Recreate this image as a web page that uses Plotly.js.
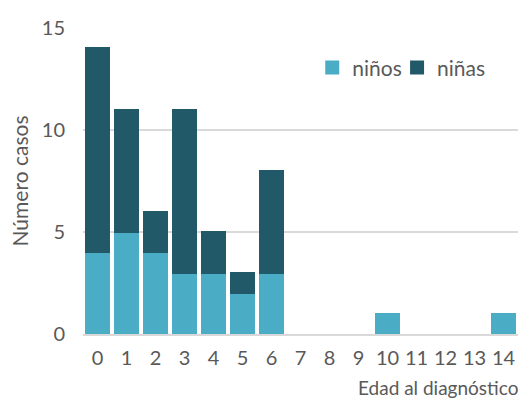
<!DOCTYPE html>
<html>
<head>
<meta charset="utf-8">
<script src="https://cdn.plot.ly/plotly-3.0.1.min.js"></script>
<style>
  html, body { margin: 0; padding: 0; background: #ffffff; }
  #chart { width: 523px; height: 399px; }
</style>
</head>
<body>
<div id="chart"></div>
<script>
// Edades al diagnóstico (años)
const edades = ['0','1','2','3','4','5','6','7','8','9','10','11','12','13','14'];
// Casos por sexo
const ninos = [4, 5, 4, 3, 3, 2, 3, 0, 0, 0, 1, 0, 0, 0, 1];
const ninas = [10, 6, 2, 8, 2, 1, 5, 0, 0, 0, 0, 0, 0, 0, 0];

const fontFam = 'Lato, "Open Sans", sans-serif';
const grey = '#595959';
const claro = '#4BACC6';
const oscuro = '#215968';

// empty ages get no bar segment at all (avoids a hairline outline at zero)
const sinCeros = arr => arr.map(v => (v === 0 ? null : v));

const traces = [
  { type: 'bar', name: 'niños', x: edades, y: sinCeros(ninos), legend: 'legend',
    marker: { color: claro, line: { color: claro, width: 2 } } },
  { type: 'bar', name: 'niñas', x: edades, y: sinCeros(ninas), legend: 'legend2',
    marker: { color: oscuro, line: { color: oscuro, width: 2 } } }
];

const legendBase = {
  orientation: 'h',
  y: 0.87, yanchor: 'middle',
  xanchor: 'left',
  font: { size: 21, color: grey, family: fontFam },
  itemwidth: 30,
  bgcolor: 'rgba(0,0,0,0)'
};

const layout = {
  width: 523, height: 399,
  margin: { l: 83, r: 5, t: 28, b: 65 },
  paper_bgcolor: '#ffffff', plot_bgcolor: '#ffffff',
  barmode: 'stack',
  bargap: 0.24,
  font: { family: fontFam, color: grey, size: 19 },
  xaxis: {
    type: 'category',
    tickfont: { size: 20, color: grey },
    showgrid: false,
    showline: true, linecolor: '#d9d9d9', linewidth: 2,
    ticks: '', ticklabelstandoff: 5,
    fixedrange: true
  },
  yaxis: {
    range: [0, 15], dtick: 5, tick0: 0,
    tickfont: { size: 20, color: grey },
    gridcolor: '#d9d9d9', gridwidth: 2,
    zeroline: false, showline: false,
    ticks: '', ticklabelstandoff: 17,
    title: { text: 'Número casos', font: { size: 21, color: grey }, standoff: 7 },
    fixedrange: true
  },
  legend: Object.assign({}, legendBase, { x: 0.527 }),
  legend2: Object.assign({}, legendBase, { x: 0.722 }),
  annotations: [{
    text: 'Edad al diagnóstico',
    xref: 'paper', yref: 'paper',
    x: 1.005, xanchor: 'right',
    y: -0.176, yanchor: 'middle',
    showarrow: false,
    font: { size: 19, color: grey }
  }],
  showlegend: true
};

Plotly.newPlot('chart', traces, layout, { displayModeBar: false, staticPlot: true });
</script>
</body>
</html>
